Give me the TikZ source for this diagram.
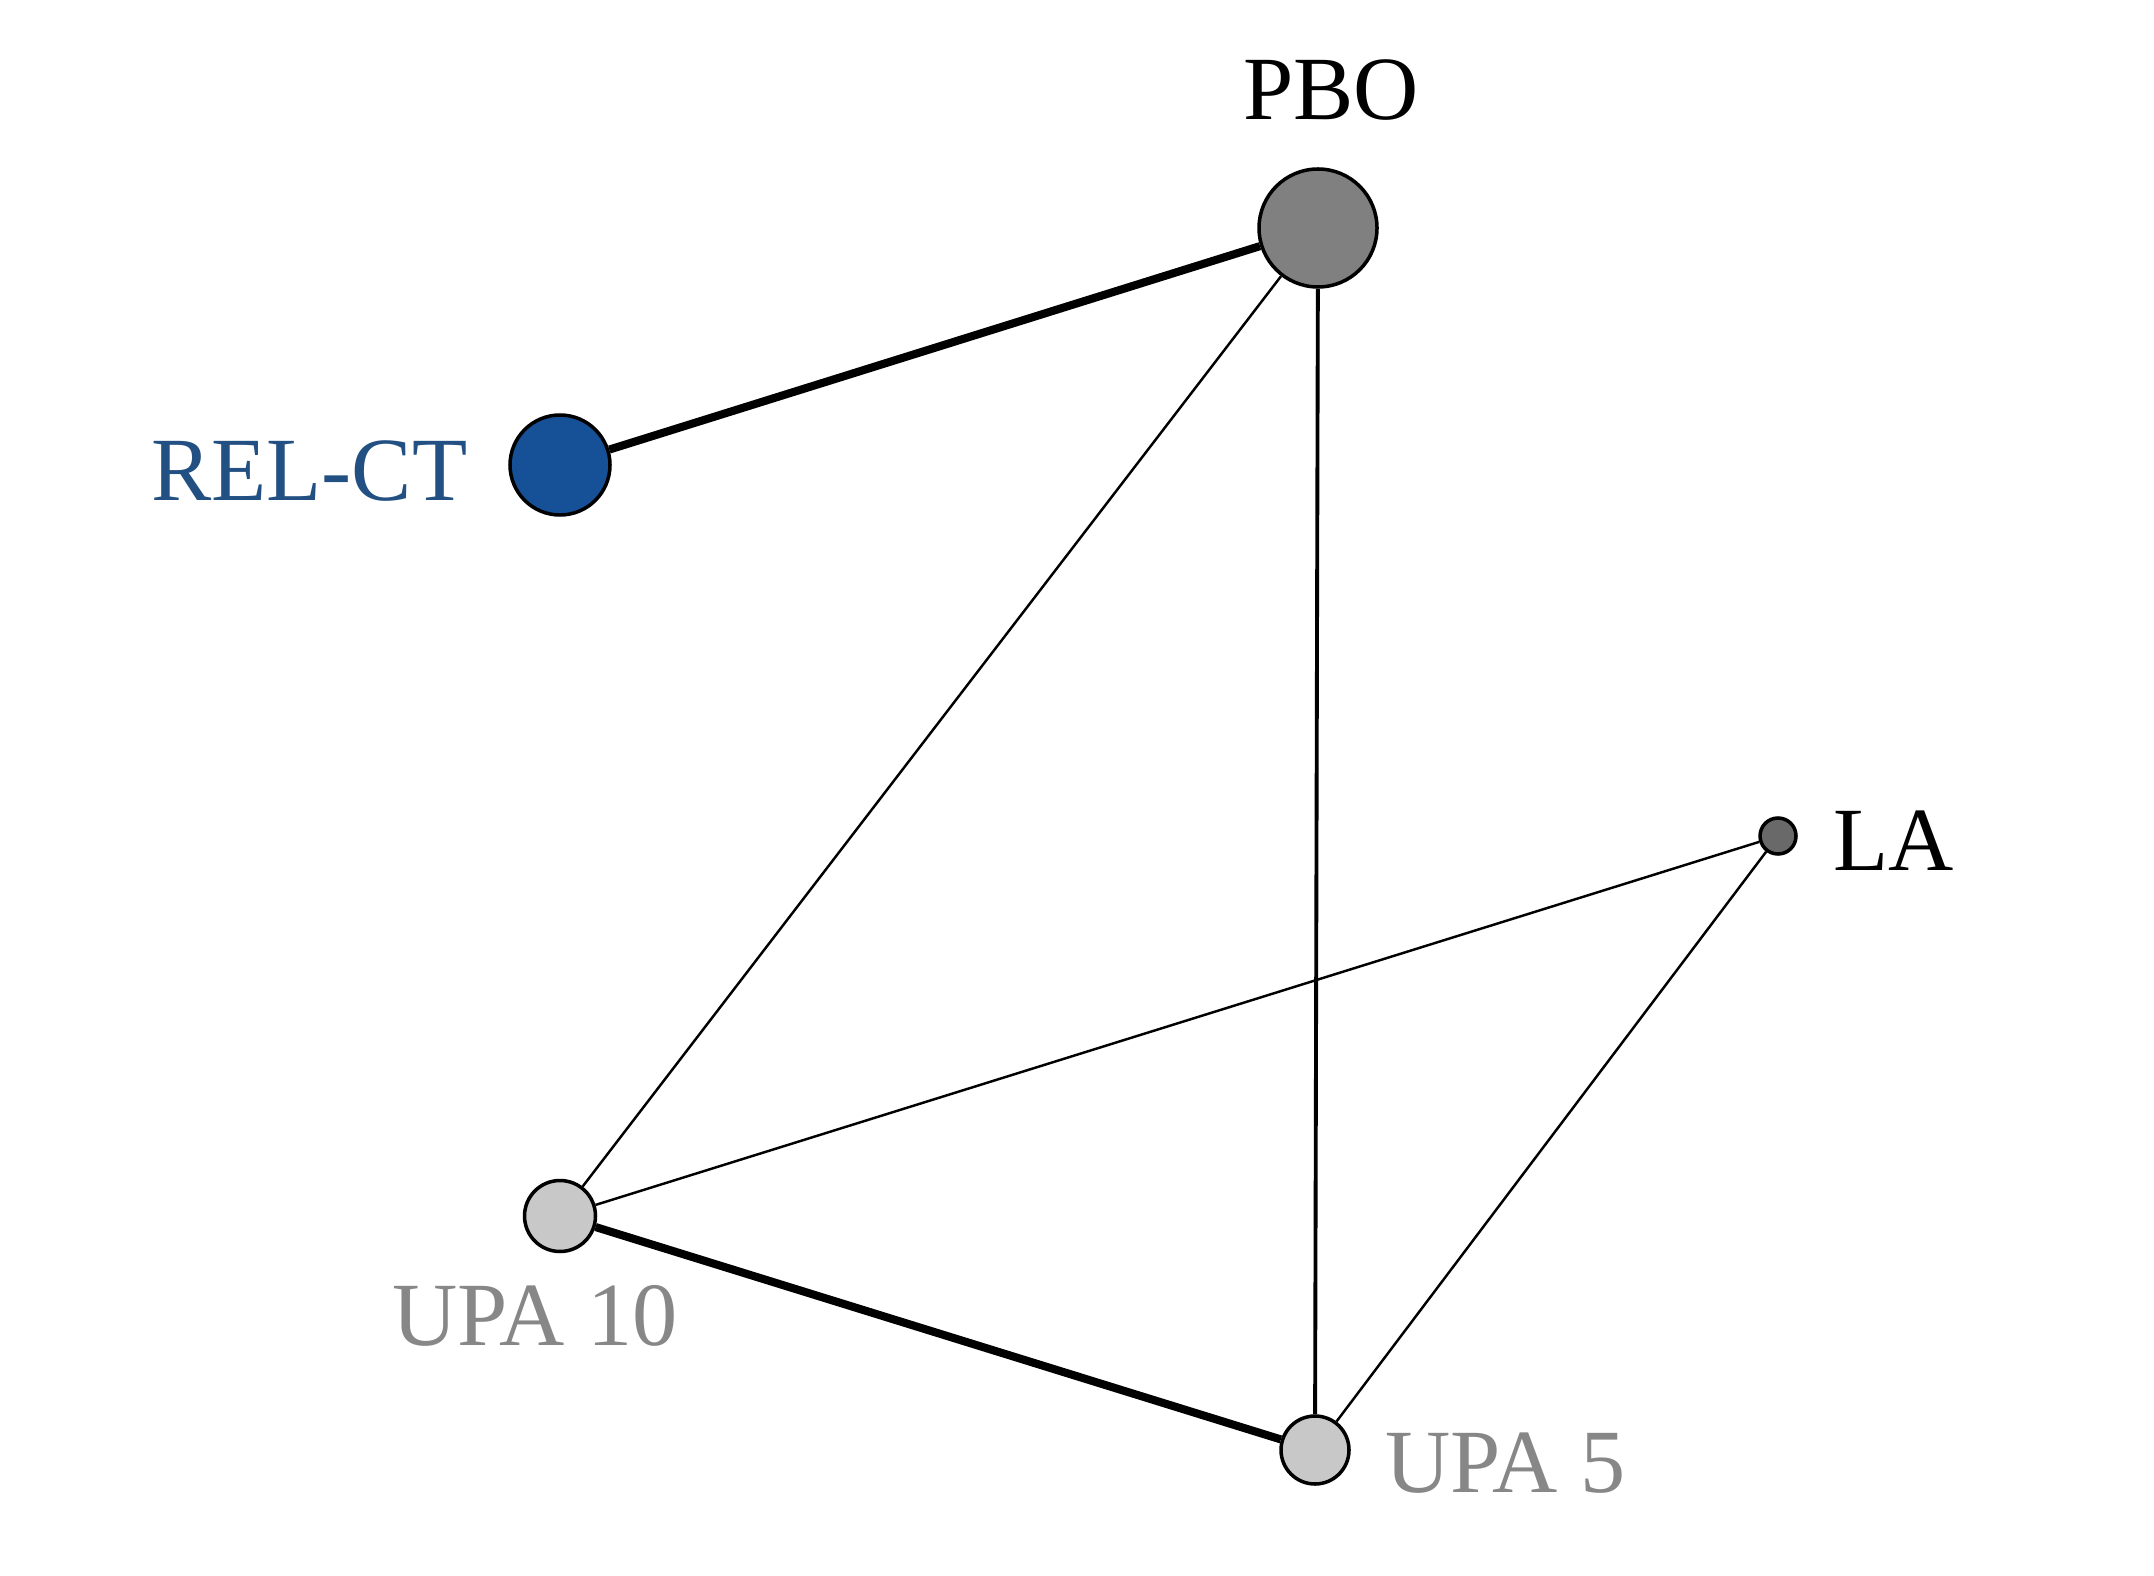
\documentclass[tikz,border=0pt]{standalone}
\usepackage{fontspec}
\setmainfont{Liberation Serif}
\definecolor{relblue}{RGB}{22,80,150}
\definecolor{reltext}{RGB}{35,80,130}
\definecolor{pbogray}{RGB}{128,128,128}
\definecolor{lagray}{RGB}{105,105,105}
\definecolor{upagray}{RGB}{200,200,200}
\definecolor{upatext}{RGB}{135,135,135}
\tikzset{
  trt/.style={circle, draw=black, line width=1pt, inner sep=0pt},
  lbl/.style={inner sep=0pt, font=\fontsize{25.7}{30}\selectfont},
  thin edge/.style={line width=0.7pt},
  mid edge/.style={line width=1.1pt},
  thick edge/.style={line width=2.3pt}
}
\begin{document}
\begin{tikzpicture}
\useasboundingbox (0,0) rectangle (21.54,15.75);
% treatments
\node[trt, fill=pbogray, minimum size=1.18cm] (pbo) at (13.18,13.47) {};
\node[trt, fill=relblue, minimum size=1.0cm] (rel) at (5.60,11.10) {};
\node[trt, fill=lagray, minimum size=0.36cm] (la) at (17.78,7.39) {};
\node[trt, fill=upagray, minimum size=0.71cm] (upa10) at (5.60,3.59) {};
\node[trt, fill=upagray, minimum size=0.68cm] (upa5) at (13.15,1.25) {};
% names
\node[lbl, anchor=base] (pbo text) at (13.31,14.55) {PBO};
\node[lbl, anchor=base east, text=reltext] (rel text) at (4.68,10.74) {REL-CT};
\node[lbl, anchor=base west] (la text) at (18.33,7.05) {LA};
\node[lbl, anchor=base west, text=upatext] (upa10 text) at (3.92,2.30) {UPA 10};
\node[lbl, anchor=base west, text=upatext] (upa5 text) at (13.85,0.83) {UPA 5};
% comparisons
\draw[thick edge] (rel) -- (pbo);
\draw[thin edge] (upa10) -- (pbo);
\draw[mid edge] (upa5) -- (pbo);
\draw[thin edge] (upa10) -- (la);
\draw[thin edge] (upa5) -- (la);
\draw[thick edge] (upa10) -- (upa5);
\end{tikzpicture}
\end{document}
